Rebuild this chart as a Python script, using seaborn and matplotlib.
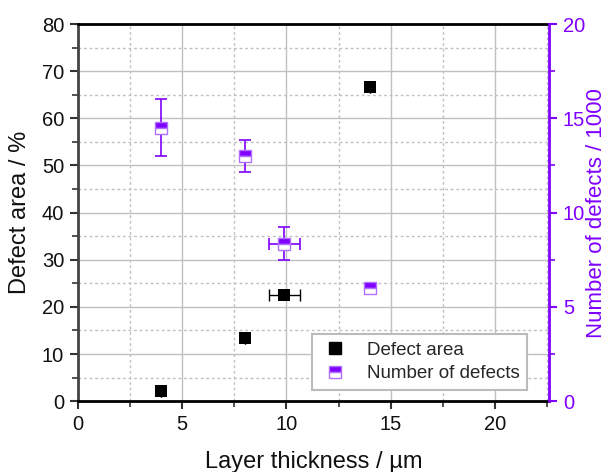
import matplotlib
matplotlib.use("Agg")
import matplotlib.pyplot as plt
from matplotlib.lines import Line2D
from matplotlib.ticker import MultipleLocator
import seaborn as sns
import pandas as pd

# data
thickness = [4.0, 8.0, 9.9, 14.0]
defect_area = [2.1, 13.5, 22.5, 66.6]
thickness_err = [0.0, 0.0, 0.75, 0.0]
n_defects = [14.5, 13.0, 8.35, 6.0]
n_defects_err = [1.5, 0.87, 0.87, 0.1]

purple = "#8000ff"

sns.set_style("whitegrid")
plt.rcParams["font.family"] = ["Liberation Sans", "DejaVu Sans"]

df = pd.DataFrame({"t": thickness, "area": defect_area, "n": n_defects})

fig = plt.figure(figsize=(6.12, 4.72), dpi=100)
ax = fig.add_axes([0.1275, 0.150, 0.897 - 0.1275, 0.949 - 0.150])
ax2 = ax.twinx()

# grid
ax.grid(which="major", color="#c0c0c0", linestyle="-", linewidth=1)
ax.grid(which="minor", color="#c0c0c0", linestyle=(0, (2, 2)), linewidth=1)
ax2.grid(False)

# defect area (left axis)
ax.errorbar(thickness, defect_area, xerr=thickness_err, fmt="none",
            ecolor="black", elinewidth=1, capsize=4, capthick=1, zorder=3)
sns.scatterplot(data=df, x="t", y="area", ax=ax, marker="s", s=72,
                color="black", edgecolor="black", linewidth=0, zorder=4, legend=False)

# number of defects (right axis)
ax2.errorbar(thickness, n_defects, xerr=thickness_err, yerr=n_defects_err, fmt="none",
             ecolor=purple, elinewidth=1.2, capsize=4, capthick=1.2, zorder=3)
ax2.plot(thickness, n_defects, linestyle="", marker="s", markersize=8,
         fillstyle="top", markerfacecolor=purple, markerfacecoloralt="white",
         markeredgecolor="#b070ff", markeredgewidth=1.0, zorder=4)

ax.set_xlim(0, 22.6)
ax.set_ylim(0, 80)
ax2.set_ylim(0, 20)
ax.xaxis.set_major_locator(MultipleLocator(5))
ax.xaxis.set_minor_locator(MultipleLocator(2.5))
ax.yaxis.set_major_locator(MultipleLocator(10))
ax.yaxis.set_minor_locator(MultipleLocator(5))
ax2.yaxis.set_major_locator(MultipleLocator(5))
ax2.yaxis.set_minor_locator(MultipleLocator(2.5))

ax.tick_params(which="major", direction="out", length=6, width=1.5, labelsize=14.5,
               color="#333333", labelcolor="#111111", top=False, right=False,
               bottom=True, left=True, pad=4)
ax.tick_params(which="minor", direction="out", length=4, width=1.2,
               color="#333333", top=False, right=False, bottom=True, left=True)
ax2.tick_params(which="major", direction="out", length=6, width=1.5, labelsize=14.5,
                color=purple, labelcolor=purple, right=True, pad=4)
ax2.tick_params(which="minor", direction="out", length=4, width=1.2,
                color=purple, right=True)

for s in ("top", "bottom"):
    ax.spines[s].set_color("black")
    ax.spines[s].set_linewidth(2)
ax.spines["left"].set_color("#444444")
ax.spines["left"].set_linewidth(2)
ax2.spines["right"].set_color(purple)
ax2.spines["right"].set_linewidth(2)
ax2.spines["left"].set_visible(False)
ax2.spines["top"].set_visible(False)
ax2.spines["bottom"].set_visible(False)
ax.spines["right"].set_visible(False)

ax.set_xlabel("Layer thickness / µm", fontsize=17, color="#111111", labelpad=12)
ax.set_ylabel("Defect area / %", fontsize=17, color="#111111", labelpad=8)
ax2.set_ylabel("Number of defects / 1000", fontsize=16, color=purple,
               rotation=90, va="center")
ax2.yaxis.set_label_coords(1.102, 0.5)

handles = [
    Line2D([], [], linestyle="", marker="s", markersize=8, color="black"),
    Line2D([], [], linestyle="", marker="s", markersize=8, fillstyle="top",
           markerfacecolor=purple, markerfacecoloralt="white",
           markeredgecolor="#b070ff", markeredgewidth=1.0),
]
leg = ax2.legend(handles, ["Defect area", "Number of defects"], loc="lower right",
                 bbox_to_anchor=(0.965, 0.015), fontsize=13.5, frameon=True,
                 fancybox=False, edgecolor="#bbbbbb", framealpha=1,
                 handletextpad=0.9, borderpad=0.4, labelspacing=0.35,
                 handlelength=1.6, borderaxespad=0.3)
leg.get_frame().set_linewidth(1.5)

fig.savefig("out.png", dpi=100)
